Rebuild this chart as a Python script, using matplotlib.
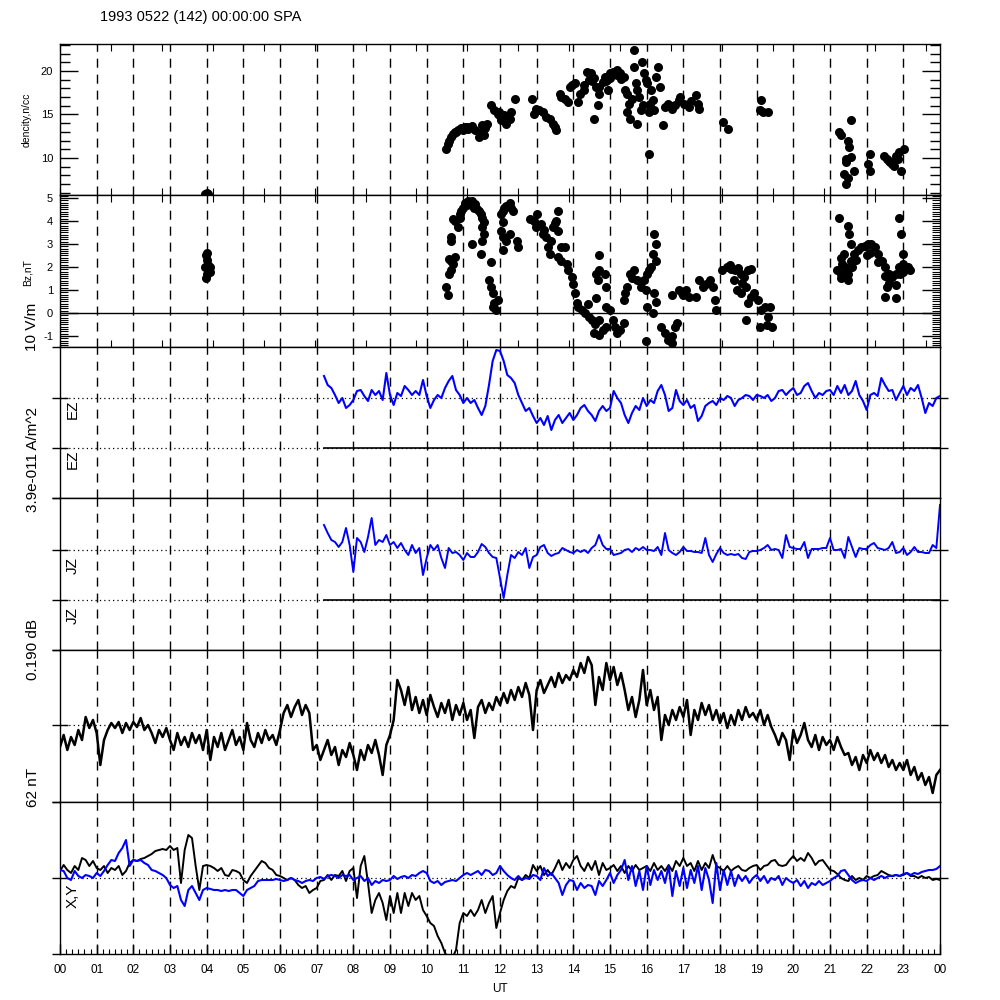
import numpy as np
import matplotlib
matplotlib.use('Agg')
import matplotlib.pyplot as plt
from matplotlib.ticker import MultipleLocator, FixedLocator, NullFormatter

plt.rcParams['font.family'] = ['Liberation Sans', 'DejaVu Sans']
plt.rcParams['axes.unicode_minus'] = False

title = '1993 0522 (142) 00:00:00 SPA'
hour_labels = ['%02d' % (h % 24) for h in range(25)]

# density n/cc : (UT hour, value)
density = [(3.95, 5.85), (4.00, 5.95), (4.05, 5.9),
    (10.53, 11.04), (10.57, 11.62), (10.62, 12.01), (10.67, 12.39), (10.71, 12.78), (10.76, 12.97),
    (10.8, 13.0), (10.86, 13.17), (10.95, 13.47), (11.0, 13.2), (11.04, 13.55), (11.1, 13.6),
    (11.14, 13.36), (11.23, 13.63), (11.33, 13.17), (11.42, 12.39), (11.51, 12.97), (11.51, 13.75),
    (11.56, 12.59), (11.6, 13.4), (11.65, 13.94), (11.75, 16.06), (11.84, 15.48), (11.94, 15.10),
    (11.98, 15.29), (12.0, 14.8), (12.03, 14.32), (12.08, 14.52), (12.12, 14.90), (12.17, 13.94),
    (12.2, 14.2), (12.27, 14.52), (12.31, 15.29), (12.41, 16.83), (12.88, 16.83), (12.92, 15.10),
    (12.97, 15.68), (13.06, 15.48), (13.16, 15.29), (13.25, 14.71), (13.35, 14.52), (13.44, 13.94),
    (13.49, 13.55), (13.53, 13.17), (13.63, 17.41), (13.67, 17.03), (13.77, 16.83), (13.86, 16.45),
    (13.91, 18.19), (13.96, 18.38), (14.05, 18.57), (14.14, 16.45), (14.19, 17.41), (14.29, 17.80),
    (14.3, 18.4), (14.38, 19.92), (14.43, 18.96), (14.47, 19.73), (14.5, 18.8), (14.57, 19.15),
    (14.61, 18.19), (14.66, 16.06), (14.57, 14.52), (14.7, 18.2), (14.71, 17.41), (14.80, 18.76),
    (14.85, 19.34), (14.9, 18.9), (14.94, 17.80), (14.99, 19.73), (15.0, 19.2), (15.08, 19.92),
    (15.18, 20.12), (15.2, 19.5), (15.27, 19.73), (15.3, 19.1), (15.37, 19.34), (15.41, 17.80),
    (15.46, 17.41), (15.51, 16.25), (15.46, 15.29), (15.55, 14.52), (15.60, 16.83), (15.65, 20.50),
    (15.70, 18.57), (15.74, 17.80), (15.79, 17.03), (15.74, 13.94), (15.84, 15.48), (15.88, 21.08),
    (15.9, 16.1), (15.93, 19.73), (15.98, 18.96), (16.02, 18.57), (16.07, 15.29), (16.1, 16.2),
    (16.12, 17.80), (16.17, 16.64), (16.21, 15.48), (16.26, 19.34), (16.31, 20.50), (16.35, 18.19),
    (16.45, 13.75), (16.49, 15.87), (16.59, 16.25), (16.68, 15.68), (16.7, 16.0), (16.78, 16.06),
    (16.87, 16.64), (16.92, 17.03), (17.01, 16.25), (17.15, 15.87), (17.2, 16.5), (17.34, 17.22),
    (17.39, 16.25), (17.43, 15.68), (15.65, 22.43), (16.07, 10.46),
    (18.09, 14.13), (18.23, 13.36), (19.13, 16.64), (19.08, 15.48), (19.17, 15.29), (19.31, 15.29),
    (21.24, 12.97), (21.29, 12.59), (21.57, 14.32), (21.48, 12.01), (21.52, 11.24), (21.57, 10.08),
    (21.43, 9.88), (21.45, 9.5), (21.38, 8.15), (21.48, 7.76), (21.43, 6.99), (21.66, 8.53),
    (22.09, 10.46), (22.04, 9.31), (22.09, 8.53), (22.46, 10.27), (22.56, 9.88), (22.6, 9.7),
    (22.65, 9.50), (22.7, 9.3), (22.74, 9.11), (22.79, 10.27), (22.85, 9.9), (22.89, 10.66),
    (23.03, 11.04), (22.93, 8.53)]

# Bz nT : (UT hour, value)
bz = [(3.95, 2.0), (4.0, 2.3), (4.02, 2.6), (3.97, 1.5), (4.05, 2.1), (4.08, 1.8), (4.0, 1.7),
    (4.1, 2.0), (3.98, 2.5),
    (10.53, 1.14), (10.57, 0.78), (10.62, 2.36), (10.67, 2.28), (10.71, 2.14), (10.76, 2.43),
    (10.67, 1.85), (10.62, 1.71), (10.67, 3.29), (10.65, 3.15), (10.71, 4.08), (10.76, 4.01),
    (10.86, 3.72), (10.9, 4.3), (10.90, 4.15), (10.95, 4.44), (11.00, 4.58), (11.04, 4.80),
    (11.1, 4.7), (11.14, 4.87), (11.18, 4.73), (11.23, 4.87), (11.28, 4.58), (11.3, 4.6),
    (11.33, 4.73), (11.37, 4.51), (11.42, 4.44), (11.47, 4.30), (11.51, 4.15), (11.56, 3.94),
    (11.51, 3.72), (11.56, 3.43), (11.51, 3.15), (11.47, 2.57), (11.23, 3.00), (11.75, 2.21),
    (11.70, 1.42), (11.75, 1.14), (11.80, 0.85), (11.84, 0.42), (11.89, 0.13), (11.94, 0.56),
    (11.80, 0.27), (12.03, 4.30), (12.08, 4.44), (12.12, 4.58), (12.17, 4.66), (12.27, 4.80),
    (12.31, 4.58), (12.36, 4.44), (12.08, 3.94), (12.03, 3.58), (12.08, 3.29), (12.17, 3.15),
    (12.08, 2.72), (12.27, 3.43), (12.45, 3.15), (12.50, 2.86), (12.83, 4.08), (12.92, 4.01),
    (12.97, 3.72), (13.02, 4.30), (13.11, 3.86), (13.16, 3.43), (13.2, 3.6), (13.25, 3.29),
    (13.30, 2.86), (13.35, 2.57), (13.39, 3.15), (13.44, 3.72), (13.5, 3.9), (13.53, 4.01),
    (13.58, 4.44), (13.58, 3.58), (13.67, 2.86), (13.77, 2.86), (13.58, 2.43), (13.67, 2.28),
    (13.82, 2.14), (13.86, 1.85), (13.96, 1.57), (14.00, 1.28), (14.05, 0.85), (14.10, 0.42),
    (14.14, 0.27), (14.24, 0.13), (14.33, -0.01), (14.4, 0.4), (14.43, -0.16), (14.52, -0.30),
    (14.57, -0.88), (14.6, -0.5), (14.71, -0.95), (14.80, -0.73), (14.61, 1.71), (14.66, 1.42),
    (14.71, 1.85), (14.85, 1.71), (14.90, 1.14), (14.71, 2.50), (14.61, 0.63), (14.71, -0.30),
    (14.9, -0.6), (14.90, 0.27), (14.99, 0.13), (15.08, -0.30), (15.13, -0.59), (15.18, -0.88),
    (15.27, -0.73), (15.37, -0.45), (15.37, 0.56), (15.41, 0.85), (15.46, 1.14), (15.55, 1.71),
    (15.6, 1.5), (15.65, 1.85), (15.74, 1.42), (15.84, 1.14), (15.93, 1.42), (16.02, 1.71),
    (16.12, 2.00), (16.17, 2.57), (16.26, 3.00), (16.21, 3.43), (16.26, 2.28), (16.07, 1.85),
    (15.98, 0.99), (16.21, 0.85), (16.26, 0.49), (16.02, 0.27), (16.17, -0.01), (15.98, -1.24),
    (16.40, -0.59), (16.49, -0.88), (16.59, -1.16), (16.68, -1.02), (16.78, -0.59), (16.82, -0.45),
    (16.68, -1.31), (16.7, 0.8), (16.87, 0.99), (16.96, 0.85), (17.0, 0.8), (17.06, 0.99),
    (17.15, 0.70), (17.34, 0.70), (17.43, 1.42), (17.53, 1.14), (17.62, 1.28), (17.72, 1.42),
    (17.81, 1.14), (17.86, 0.56), (17.90, 0.13), (18.05, 1.85), (18.19, 2.00), (18.28, 2.07),
    (18.3, 1.9), (18.42, 1.85), (18.5, 1.95), (18.56, 1.71), (18.6, 1.3), (18.66, 1.57),
    (18.75, 1.85), (18.84, 1.93), (18.37, 1.42), (18.47, 0.99), (18.56, 0.85), (18.70, 1.14),
    (18.75, 0.42), (18.84, 0.70), (18.94, 0.85), (19.03, 0.56), (18.70, -0.30), (19.13, 0.13),
    (19.22, 0.27), (19.31, -0.16), (19.08, -0.59), (19.27, -0.52), (19.41, -0.59), (19.36, 0.27),
    (21.24, 4.15), (21.48, 3.79), (21.52, 3.43), (21.57, 3.00), (21.38, 2.57), (21.33, 2.14),
    (21.29, 1.71), (21.48, 1.71), (21.57, 2.28), (21.66, 2.57), (21.76, 2.72), (21.85, 2.86),
    (21.95, 2.93), (22.04, 3.00), (22.13, 3.00), (22.23, 2.86), (22.32, 2.57), (22.42, 2.28),
    (22.51, 2.00), (22.60, 1.71), (22.70, 1.57), (22.79, 1.71), (22.89, 2.00), (22.98, 2.14),
    (23.12, 2.00), (23.17, 1.85), (22.98, 2.57), (22.93, 3.43), (22.89, 4.15), (22.56, 1.14),
    (22.51, 0.70), (22.79, 0.63), (21.48, 1.42), (21.19, 1.85), (21.3, 2.4), (21.4, 2.0),
    (21.6, 2.0), (21.7, 2.3), (22.0, 2.5), (22.1, 2.6), (22.3, 2.2), (22.5, 1.6), (22.6, 1.3),
    (22.8, 1.2), (22.9, 1.7), (23.0, 1.8), (21.3, 1.5)]

# EZ, JZ: samples every 0.1 h starting at 07.2 UT (panel units)
ez_start = 7.2
ez = [22, 13, 10, 3, -5, 0, -10, -7,
      -2, 7, 8, 2, -3, 8, 3, 7, -2, 25,
      3, -7, 5, 2, 12, 8, 3, 7, 3, 18,
      2, -10, -2, 3, 0, 10, 17, 22, 8, 3,
      -5, 0, -5, -2, -10, -17, -8, 13, 37, 48,
      47, 37, 23, 20, 15, 3, -5, -13, -10, -18,
      -25, -20, -27, -18, -32, -22, -17, -25, -20, -15,
      -22, -17, -10, -7, -13, -17, -23, -13, -8, -13,
      -10, 7, 0, -5, -17, -25, -15, -8, -12, 0,
      -8, -2, -5, 7, 13, 3, -13, -10, 8, -3,
      -7, -2, -10, -7, -23, -18, -8, -5, -3, -7,
      0, -2, 2, 0, -8, -2, 0, 3, 2, -2,
      3, 2, 0, 3, -3, 0, 7, 8, 3, 7,
      10, 3, 5, 12, 15, 7, 0, 5, 3, 7,
      8, 3, 12, 5, 13, 3, 7, 17, 3, -3,
      -12, 3, 5, 2, 20, 13, 7, 8, -2, 5,
      12, 3, 10, 7, 13, 0, -15, -5, -8, 0,
      2]
jz = [25, 17, 10, 8, 3, 8, 22, 5,
      -22, 12, 8, -2, 13, 32, 5, 10, 8, 15,
      5, 8, 2, 7, 0, -5, 5, -3, 2, -25,
      -8, 5, 0, 5, -8, -18, 2, -3, -2, -5,
      -10, -3, -7, -7, -2, 6, 3, -3, -7, -8,
      -28, -48, -25, -5, -8, -2, -5, 2, -18, -7,
      -5, 3, 5, -3, -6, -4, -3, 2, 0, -2,
      -3, 0, -2, 0, -3, 2, 5, 15, 5, 1,
      1, -5, -4, -3, 0, 1, -2, 2, 0, 3,
      0, 0, -1, 3, -5, 17, 0, -3, -5, -2,
      3, -1, -1, -2, -2, -3, 12, -5, -12, -4,
      2, -3, -5, -4, -5, -4, -8, -9, -2, -1,
      -1, 0, 2, 5, 0, 1, 0, -8, 15, 3,
      2, 1, 1, 8, -8, 1, 1, 1, 2, 2,
      12, 0, 0, 1, -8, 13, 3, -7, 2, 1,
      1, 5, 7, 2, 1, 0, 2, 8, -3, -2,
      2, -5, -2, 3, -2, -2, -3, -3, 5, 2,
      45]

# dB and X,Y: samples every 0.1 h from 00 UT
db = [-22, -10, -25, -12, -20, -5, -15, 8, -3, 5,
      -8, -40, -15, -5, 2, -3, 3, -8, 2, -5,
      3, -2, 7, -5, 0, -8, -18, -5, -12, -3,
      -15, -25, -8, -20, -12, -22, -8, -18, -10, -25,
      -5, -35, -12, -22, -8, -25, -15, -5, -20, -12,
      -25, 2, -15, -22, -8, -18, -5, -15, -10, -20,
      -5, 12, 20, 8, 18, 25, 10, 20, 12, -25,
      -20, -35, -25, -15, -30, -22, -40, -25, -32, -18,
      -30, -45, -25, -35, -20, -28, -15, -30, -50, -20,
      -10, 5, 45, 35, 20, 38, 15, 28, 12, 25,
      10, 30, 18, 8, 22, 12, 25, 5, 20, 10,
      22, 5, 15, -13, 18, 25, 12, 22, 15, 28,
      20, 32, 22, 35, 25, 38, 28, 42, 30, -5,
      35, 45, 32, 40, 48, 38, 52, 42, 50, 45,
      55, 48, 62, 52, 68, 60, 20, 48, 35, 62,
      45, 58, 40, 52, 35, 15, 28, 8, 25, 55,
      20, 35, 15, 28, -15, 10, 0, 15, 5, 18,
      8, 25, -10, 15, 5, 22, 10, 20, 5, 15,
      2, 12, -3, 10, 0, 15, 5, 18, 8, 12,
      5, 15, 0, 10, -2, -10, -20, -8, -15, -35,
      -5, -18, -10, 2, -15, -22, -10, -25, -12, -20,
      -15, -25, -12, -22, -30, -28, -40, -32, -45, -30,
      -38, -25, -35, -28, -38, -30, -42, -35, -45, -38,
      -45, -35, -50, -42, -55, -48, -60, -52, -68, -50,
      -45]
mag_x = [7, 13, 8, 5, 12, 8, 20, 18, 12, 17,
         10, 8, 12, 5, 10, 8, 12, 3, 7, 15,
         18, 17, 19, 20, 22, 24, 27, 28, 29, 28,
         32, 28, 30, -5, 28, 43, 40, 12, -12, 12,
         13, 12, 10, 7, 10, 3, 2, 8, 7, 5,
         -2, -5, 2, 7, 12, 17, 15, 10, 8, 3,
         2, 0, -2, 0, -2, -7, -10, -8, -15, -12,
         -10, -3, -2, 3, -2, 3, 2, 7, -3, 7,
         10, -20, 12, 22, -5, -35, -22, -15, -25, -42,
         -18, -35, -15, -35, -15, -28, -15, -22, -18, -32,
         -38, -45, -48, -58, -65, -75, -80, -80, -72, -45,
         -35, -38, -32, -38, -32, -22, -35, -25, -18, -50,
         -35, -22, -13, -8, -10, 0, -2, 3, 0, 13,
         7, 12, 3, 8, 3, 10, 18, 8, 15, 10,
         18, 22, 12, 7, 15, 8, 17, 3, 15, 8,
         10, 13, 7, 12, 5, 12, 7, 13, 8, 10,
         12, 7, 15, 8, 12, 7, 13, 7, 17, 12,
         20, 12, 15, 7, 17, 8, 15, 10, 23, 12,
         10, 7, 12, 7, 10, 12, 8, 7, 10, 12,
         13, 8, 12, 13, 17, 18, 13, 12, 13, 18,
         22, 17, 20, 17, 25, 20, 13, 17, 18, 13,
         8, 7, 4, 0, -2, -3, 2, -2, 0, -2,
         2, 0, 2, 3, 7, 5, 3, 2, 3, 2,
         3, 5, 2, 2, 0, 2, 0, 1, -2, -1,
         -2]
mag_y = [8, 7, 0, -2, 7, 2, 0, 3, 2, 0,
         5, 2, 7, 13, 18, 17, 25, 30, 38, 12,
         18, 17, 18, 15, 13, 8, 7, 5, 3, 0,
         -7, -10, -8, -22, -28, -12, -8, -15, -22, -12,
         -10, -11, -12, -12, -13, -12, -13, -12, -12, -15,
         -18, -12, -10, -8, -3, -2, -2, -2, -2, -1,
         -2, -3, -2, 0, -2, -3, -5, -3, -2, -3,
         0, 1, -1, 2, 3, 2, 0, 3, 2, 3,
         -2, 0, 2, -3, 0, -7, -3, -5, -2, -3,
         -2, 2, -1, 1, 2, 0, 3, 2, 5, 7,
         5, -3, -5, -3, -7, -4, -3, -2, -3, 0,
         3, 5, 3, 5, 7, 3, 8, 7, 3, 5,
         12, 7, 3, 0, -2, 2, -2, 0, -1, 3,
         2, -2, 10, 2, 5, 0, -5, -17, -7, -2,
         -3, -12, -5, -10, -7, -8, -17, -3, -8, -2,
         5, -5, 3, 8, 18, -2, 12, -8, 7, -12,
         12, -7, 8, -2, 7, -5, 12, -18, 7, -8,
         10, -10, 8, -5, 12, -12, 10, -2, -25, 15,
         -12, 8, -7, 7, -8, 3, -3, 2, -5, 0,
         3, -3, 2, -5, 0, -2, 2, -7, 0, -3,
         -5, -2, -8, -3, -10, -5, -7, -3, -7, -5,
         -3, 0, 2, 7, 8, 3, -2, -5, -3, -2,
         -3, 0, -2, 0, 2, 0, 2, 2, 3, 2,
         4, 5, 3, 5, 4, 6, 7, 8, 8, 9,
         12]

blue = '#0000ff'
step = 0.1

fig = plt.figure(figsize=(10, 10), dpi=100)

# panel edges in pixels (top, bottom)
panel_px = [(44, 195), (195, 347), (347, 498), (498, 650), (650, 802), (802, 954)]
axes = []
for top, bot in panel_px:
    ax = fig.add_axes([0.06, 1 - bot / 1000.0, 0.88, (bot - top) / 1000.0])
    ax.set_xlim(0, 24)
    for h in range(1, 24):
        ax.axvline(h, color='k', lw=1.0, dashes=(6.5, 5.0), zorder=1)
    for s in ax.spines.values():
        s.set_linewidth(1.0)
    ax.xaxis.set_major_formatter(NullFormatter())
    axes.append(ax)

sec5000 = np.arange(0, 24.01, 5000 / 3600.0)

# density
ax = axes[0]
t, v = zip(*density)
ax.plot(t, v, 'o', color='k', ms=6.5, mew=0, zorder=3)
ax.set_ylim(5.75, 23.1)
ax.yaxis.set_major_locator(MultipleLocator(5))
ax.yaxis.set_minor_locator(MultipleLocator(1))
ax.tick_params(axis='y', which='major', direction='in', length=13, width=1, right=True, labelsize=8, pad=5)
ax.tick_params(axis='y', which='minor', direction='in', length=7, width=1, right=True)
ax.set_xticks(sec5000)
ax.tick_params(axis='x', direction='in', length=5, top=True)

# Bz
ax = axes[1]
ax.axhline(0, color='k', lw=1.0, zorder=2)
t, v = zip(*bz)
ax.plot(t, v, 'o', color='k', ms=6.5, mew=0, zorder=3)
ax.set_ylim(-1.48, 5.13)
ax.yaxis.set_major_locator(MultipleLocator(1))
ax.yaxis.set_minor_locator(MultipleLocator(0.1))
ax.tick_params(axis='y', which='major', direction='in', length=13, width=1, right=True, labelsize=8, pad=5)
ax.tick_params(axis='y', which='minor', direction='in', length=6, width=0.8, right=True)
ax.set_xticks(sec5000)
ax.tick_params(axis='x', direction='in', length=5, top=True)

def trace_panel(ax, levels, ylim):
    ax.set_ylim(*ylim)
    for lv in levels:
        ax.axhline(lv, color='k', lw=0.9, ls=(0, (1, 2.5)), zorder=1)
    ax.yaxis.set_major_locator(FixedLocator(levels))
    ax.yaxis.set_minor_locator(FixedLocator(list(ylim)))
    ax.yaxis.set_major_formatter(NullFormatter())
    ax.tick_params(axis='y', which='major', direction='inout', length=12, width=1, right=True)
    ax.tick_params(axis='y', which='minor', direction='out', length=6, width=1)
    ax.tick_params(axis='x', which='both', length=0)

# EZ
ax = axes[2]
trace_panel(ax, [0, -50], (-100, 51))
t_ez = ez_start + step * np.arange(len(ez))
ax.plot(t_ez, ez, color=blue, lw=1.5, zorder=3)
ax.plot(t_ez, np.zeros(len(ez)) - 50, color='k', lw=1.2, zorder=3)

# JZ
ax = axes[3]
trace_panel(ax, [0, -50], (-100, 52))
t_jz = ez_start + step * np.arange(len(jz))
ax.plot(t_jz, jz, color=blue, lw=1.4, zorder=3)
ax.plot(t_jz, np.zeros(len(jz)) - 50, color='k', lw=1.2, zorder=3)

# dB
ax = axes[4]
trace_panel(ax, [0], (-77, 75))
t_db = step * np.arange(len(db))
ax.plot(t_db, db, color='k', lw=1.8, zorder=3)

# X, Y
ax = axes[5]
trace_panel(ax, [0], (-76, 76))
t_xy = step * np.arange(len(mag_x))
ax.plot(t_xy, mag_x, color='k', lw=1.4, zorder=3)
ax.plot(t_xy, mag_y, color=blue, lw=1.5, zorder=4)
ax.set_xticks(range(25))
ax.set_xticklabels(hour_labels)
ax.xaxis.set_minor_locator(MultipleLocator(1 / 6.0))
ax.tick_params(axis='x', which='major', direction='in', length=7, width=1, labelsize=8.5, pad=7)
ax.tick_params(axis='x', which='minor', direction='in', length=3.5, width=0.8)
ax.set_xlabel('UT', fontsize=8.5, labelpad=5)

fig.text(0.10, 0.983, title, fontsize=10.5, ha='left', va='center')
fig.text(0.027, 1 - 0.120, 'dencity,n/cc', rotation=90, fontsize=7.5, ha='center', va='center')
fig.text(0.028, 1 - 0.273, 'Bz,nT', rotation=90, fontsize=7.5, ha='center', va='center')
big = dict(rotation=90, fontsize=11, ha='center', va='center')
fig.text(0.032, 1 - 0.327, '10 V/m', **big)
fig.text(0.033, 1 - 0.460, '3.9e-011 A/m^2', **big)
fig.text(0.033, 1 - 0.649, '0.190 dB', **big)
fig.text(0.033, 1 - 0.787, '62 nT', **big)
fig.text(0.073, 1 - 0.409, 'EZ', **big)
fig.text(0.073, 1 - 0.459, 'EZ', **big)
fig.text(0.073, 1 - 0.565, 'JZ', **big)
fig.text(0.073, 1 - 0.615, 'JZ', **big)
fig.text(0.073, 1 - 0.896, 'X,Y', **big)

fig.savefig('out.png', dpi=100)
